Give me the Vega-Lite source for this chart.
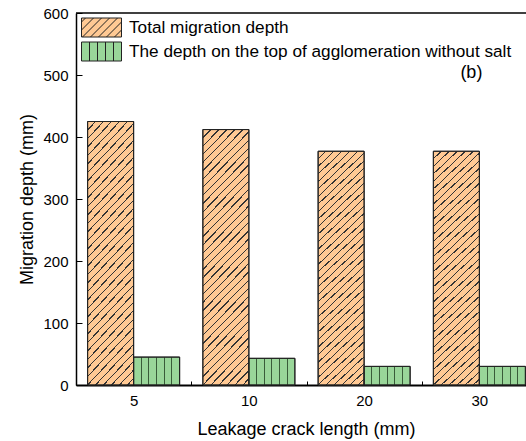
{
  "$schema": "https://vega.github.io/schema/vega-lite/v6.json",
  "width": 450,
  "height": 372,
  "autosize": {"type": "none"},
  "padding": {"left": 76, "top": 13, "right": 0, "bottom": 56},
  "background": "white",
  "config": {
    "font": "Liberation Sans",
    "view": {"stroke": null},
    "axis": {"grid": false, "labelColor": "#000", "titleColor": "#000", "domainColor": "#000", "tickColor": "#000", "labelFont": "Liberation Sans", "titleFont": "Liberation Sans", "titleFontWeight": "normal"}
  },
  "datasets": {
    "bars": [
      {"length": 5, "series": "Total migration depth", "depth": 425},
      {"length": 10, "series": "Total migration depth", "depth": 412},
      {"length": 20, "series": "Total migration depth", "depth": 377},
      {"length": 30, "series": "Total migration depth", "depth": 377},
      {"length": 5, "series": "The depth on the top of agglomeration without salt", "depth": 45},
      {"length": 10, "series": "The depth on the top of agglomeration without salt", "depth": 43},
      {"length": 20, "series": "The depth on the top of agglomeration without salt", "depth": 30},
      {"length": 30, "series": "The depth on the top of agglomeration without salt", "depth": 30}
    ],
    "note": [{"label": "(b)", "length": 30, "depth": 503}],
    "frame": [{"depth": 600}]
  },
  "layer": [
    {
      "data": {"name": "bars"},
      "mark": {"type": "bar", "stroke": "#222", "strokeWidth": 1},
      "encoding": {
        "x": {
          "field": "length", "type": "ordinal",
          "scale": {"range": [0, 461], "paddingInner": 0, "paddingOuter": 0},
          "axis": {"title": "Leakage crack length (mm)", "labelAngle": 0, "labelFontSize": 15, "titleFontSize": 18, "tickBand": "extent", "tickSize": -4, "tickWidth": 1, "domainWidth": 2, "labelPadding": 12, "titlePadding": 12, "titleX": 230}
        },
        "y": {
          "field": "depth", "type": "quantitative",
          "scale": {"domain": [0, 600], "nice": false},
          "axis": {
            "title": "Migration depth (mm)",
            "values": [0, 50, 100, 150, 200, 250, 300, 350, 400, 450, 500, 550, 600],
            "labelExpr": "datum.value % 100 === 0 ? datum.label : ''",
            "tickSize": {"condition": {"test": "datum.value % 100 === 0", "value": -6}, "value": -3},
            "tickWidth": 1, "domainWidth": 1.5,
            "labelFontSize": 15, "titleFontSize": 18, "labelPadding": 14, "titlePadding": 6
          }
        },
        "xOffset": {"field": "series", "type": "nominal", "scale": {"domain": ["Total migration depth", "The depth on the top of agglomeration without salt"], "paddingInner": 0, "paddingOuter": 0.2527}},
        "color": {
          "field": "series", "type": "nominal",
          "scale": {"domain": ["Total migration depth", "The depth on the top of agglomeration without salt"], "range": ["#FFC994", "#99D699"]},
          "legend": {
            "title": null, "orient": "none", "legendX": 15, "legendY": 4, "padding": 0,
            "symbolType": "M-2,-0.95H2V0.95H-2Z", "symbolSize": 400, "symbolStrokeColor": "#222", "symbolStrokeWidth": 1,
            "labelFontSize": 17.2, "labelOffset": 17, "labelLimit": 0, "rowPadding": 1, "symbolOpacity": 1,
            "encode": {"symbols": {"update": {"shape": {"signal": "datum.value === 'Total migration depth' ? 'M-2,-0.95H2V0.95H-2Z M-2,-0.55L-1.6,-0.95 M-2,0.25L-0.8,-0.95 M-1.9,0.95L0,-0.95 M-1.1,0.95L0.8,-0.95 M-0.3,0.95L1.6,-0.95 M0.5,0.95L2,-0.55 M1.3,0.95L2,0.25' : 'M-2,-0.95H2V0.95H-2Z M-1.2,-0.95V0.95 M-0.4,-0.95V0.95 M0.4,-0.95V0.95 M1.2,-0.95V0.95'"}}}}
          }
        }
      }
    },
    {
      "data": {"name": "bars"},
      "transform": [{"filter": "datum.series === 'Total migration depth'"}],
      "mark": {
        "type": "bar", "stroke": "#222", "strokeWidth": 1,
        "fill": {
          "gradient": "linear", "x1": 0, "y1": 0, "x2": 0.2126, "y2": 1.146,
          "stops": [
            {"offset": 0, "color": "rgba(0,0,0,0)"},
            {"offset": 0.025, "color": "rgba(0,0,0,0)"}, {"offset": 0.025, "color": "#333"}, {"offset": 0.0294, "color": "#333"}, {"offset": 0.0294, "color": "rgba(0,0,0,0)"},
            {"offset": 0.0522, "color": "rgba(0,0,0,0)"}, {"offset": 0.0522, "color": "#333"}, {"offset": 0.0566, "color": "#333"}, {"offset": 0.0566, "color": "rgba(0,0,0,0)"},
            {"offset": 0.0794, "color": "rgba(0,0,0,0)"}, {"offset": 0.0794, "color": "#333"}, {"offset": 0.0838, "color": "#333"}, {"offset": 0.0838, "color": "rgba(0,0,0,0)"},
            {"offset": 0.1066, "color": "rgba(0,0,0,0)"}, {"offset": 0.1066, "color": "#333"}, {"offset": 0.111, "color": "#333"}, {"offset": 0.111, "color": "rgba(0,0,0,0)"},
            {"offset": 0.1338, "color": "rgba(0,0,0,0)"}, {"offset": 0.1338, "color": "#333"}, {"offset": 0.1382, "color": "#333"}, {"offset": 0.1382, "color": "rgba(0,0,0,0)"},
            {"offset": 0.161, "color": "rgba(0,0,0,0)"}, {"offset": 0.161, "color": "#333"}, {"offset": 0.1654, "color": "#333"}, {"offset": 0.1654, "color": "rgba(0,0,0,0)"},
            {"offset": 0.1882, "color": "rgba(0,0,0,0)"}, {"offset": 0.1882, "color": "#333"}, {"offset": 0.1926, "color": "#333"}, {"offset": 0.1926, "color": "rgba(0,0,0,0)"},
            {"offset": 0.2154, "color": "rgba(0,0,0,0)"}, {"offset": 0.2154, "color": "#333"}, {"offset": 0.2198, "color": "#333"}, {"offset": 0.2198, "color": "rgba(0,0,0,0)"},
            {"offset": 0.2426, "color": "rgba(0,0,0,0)"}, {"offset": 0.2426, "color": "#333"}, {"offset": 0.247, "color": "#333"}, {"offset": 0.247, "color": "rgba(0,0,0,0)"},
            {"offset": 0.2698, "color": "rgba(0,0,0,0)"}, {"offset": 0.2698, "color": "#333"}, {"offset": 0.2742, "color": "#333"}, {"offset": 0.2742, "color": "rgba(0,0,0,0)"},
            {"offset": 0.297, "color": "rgba(0,0,0,0)"}, {"offset": 0.297, "color": "#333"}, {"offset": 0.3014, "color": "#333"}, {"offset": 0.3014, "color": "rgba(0,0,0,0)"},
            {"offset": 0.3242, "color": "rgba(0,0,0,0)"}, {"offset": 0.3242, "color": "#333"}, {"offset": 0.3286, "color": "#333"}, {"offset": 0.3286, "color": "rgba(0,0,0,0)"},
            {"offset": 0.3514, "color": "rgba(0,0,0,0)"}, {"offset": 0.3514, "color": "#333"}, {"offset": 0.3558, "color": "#333"}, {"offset": 0.3558, "color": "rgba(0,0,0,0)"},
            {"offset": 0.3786, "color": "rgba(0,0,0,0)"}, {"offset": 0.3786, "color": "#333"}, {"offset": 0.383, "color": "#333"}, {"offset": 0.383, "color": "rgba(0,0,0,0)"},
            {"offset": 0.4058, "color": "rgba(0,0,0,0)"}, {"offset": 0.4058, "color": "#333"}, {"offset": 0.4102, "color": "#333"}, {"offset": 0.4102, "color": "rgba(0,0,0,0)"},
            {"offset": 0.433, "color": "rgba(0,0,0,0)"}, {"offset": 0.433, "color": "#333"}, {"offset": 0.4374, "color": "#333"}, {"offset": 0.4374, "color": "rgba(0,0,0,0)"},
            {"offset": 0.4602, "color": "rgba(0,0,0,0)"}, {"offset": 0.4602, "color": "#333"}, {"offset": 0.4646, "color": "#333"}, {"offset": 0.4646, "color": "rgba(0,0,0,0)"},
            {"offset": 0.4874, "color": "rgba(0,0,0,0)"}, {"offset": 0.4874, "color": "#333"}, {"offset": 0.4918, "color": "#333"}, {"offset": 0.4918, "color": "rgba(0,0,0,0)"},
            {"offset": 0.5146, "color": "rgba(0,0,0,0)"}, {"offset": 0.5146, "color": "#333"}, {"offset": 0.519, "color": "#333"}, {"offset": 0.519, "color": "rgba(0,0,0,0)"},
            {"offset": 0.5418, "color": "rgba(0,0,0,0)"}, {"offset": 0.5418, "color": "#333"}, {"offset": 0.5462, "color": "#333"}, {"offset": 0.5462, "color": "rgba(0,0,0,0)"},
            {"offset": 0.569, "color": "rgba(0,0,0,0)"}, {"offset": 0.569, "color": "#333"}, {"offset": 0.5734, "color": "#333"}, {"offset": 0.5734, "color": "rgba(0,0,0,0)"},
            {"offset": 0.5962, "color": "rgba(0,0,0,0)"}, {"offset": 0.5962, "color": "#333"}, {"offset": 0.6006, "color": "#333"}, {"offset": 0.6006, "color": "rgba(0,0,0,0)"},
            {"offset": 0.6234, "color": "rgba(0,0,0,0)"}, {"offset": 0.6234, "color": "#333"}, {"offset": 0.6278, "color": "#333"}, {"offset": 0.6278, "color": "rgba(0,0,0,0)"},
            {"offset": 0.6506, "color": "rgba(0,0,0,0)"}, {"offset": 0.6506, "color": "#333"}, {"offset": 0.655, "color": "#333"}, {"offset": 0.655, "color": "rgba(0,0,0,0)"},
            {"offset": 0.6778, "color": "rgba(0,0,0,0)"}, {"offset": 0.6778, "color": "#333"}, {"offset": 0.6822, "color": "#333"}, {"offset": 0.6822, "color": "rgba(0,0,0,0)"},
            {"offset": 0.705, "color": "rgba(0,0,0,0)"}, {"offset": 0.705, "color": "#333"}, {"offset": 0.7094, "color": "#333"}, {"offset": 0.7094, "color": "rgba(0,0,0,0)"},
            {"offset": 0.7322, "color": "rgba(0,0,0,0)"}, {"offset": 0.7322, "color": "#333"}, {"offset": 0.7366, "color": "#333"}, {"offset": 0.7366, "color": "rgba(0,0,0,0)"},
            {"offset": 0.7594, "color": "rgba(0,0,0,0)"}, {"offset": 0.7594, "color": "#333"}, {"offset": 0.7638, "color": "#333"}, {"offset": 0.7638, "color": "rgba(0,0,0,0)"},
            {"offset": 0.7866, "color": "rgba(0,0,0,0)"}, {"offset": 0.7866, "color": "#333"}, {"offset": 0.791, "color": "#333"}, {"offset": 0.791, "color": "rgba(0,0,0,0)"},
            {"offset": 0.8138, "color": "rgba(0,0,0,0)"}, {"offset": 0.8138, "color": "#333"}, {"offset": 0.8182, "color": "#333"}, {"offset": 0.8182, "color": "rgba(0,0,0,0)"},
            {"offset": 0.841, "color": "rgba(0,0,0,0)"}, {"offset": 0.841, "color": "#333"}, {"offset": 0.8454, "color": "#333"}, {"offset": 0.8454, "color": "rgba(0,0,0,0)"},
            {"offset": 0.8682, "color": "rgba(0,0,0,0)"}, {"offset": 0.8682, "color": "#333"}, {"offset": 0.8726, "color": "#333"}, {"offset": 0.8726, "color": "rgba(0,0,0,0)"},
            {"offset": 0.8954, "color": "rgba(0,0,0,0)"}, {"offset": 0.8954, "color": "#333"}, {"offset": 0.8998, "color": "#333"}, {"offset": 0.8998, "color": "rgba(0,0,0,0)"},
            {"offset": 0.9226, "color": "rgba(0,0,0,0)"}, {"offset": 0.9226, "color": "#333"}, {"offset": 0.927, "color": "#333"}, {"offset": 0.927, "color": "rgba(0,0,0,0)"},
            {"offset": 0.9498, "color": "rgba(0,0,0,0)"}, {"offset": 0.9498, "color": "#333"}, {"offset": 0.9542, "color": "#333"}, {"offset": 0.9542, "color": "rgba(0,0,0,0)"},
            {"offset": 0.977, "color": "rgba(0,0,0,0)"}, {"offset": 0.977, "color": "#333"}, {"offset": 0.9814, "color": "#333"}, {"offset": 0.9814, "color": "rgba(0,0,0,0)"},
            {"offset": 1, "color": "rgba(0,0,0,0)"}
          ]
        }
      },
      "encoding": {
        "x": {"field": "length", "type": "ordinal"},
        "y": {"field": "depth", "type": "quantitative"},
        "xOffset": {"field": "series", "type": "nominal"}
      }
    },
    {
      "data": {"name": "bars"},
      "transform": [{"filter": "datum.series !== 'Total migration depth'"}],
      "mark": {
        "type": "bar", "stroke": "#222", "strokeWidth": 1,
        "fill": {
          "gradient": "linear", "x1": 0, "y1": 0, "x2": 1, "y2": 0,
          "stops": [
            {"offset": 0, "color": "rgba(0,0,0,0)"},
            {"offset": 0.155, "color": "rgba(0,0,0,0)"}, {"offset": 0.155, "color": "rgba(40,70,40,0.85)"}, {"offset": 0.178, "color": "rgba(40,70,40,0.85)"}, {"offset": 0.178, "color": "rgba(0,0,0,0)"},
            {"offset": 0.322, "color": "rgba(0,0,0,0)"}, {"offset": 0.322, "color": "rgba(40,70,40,0.85)"}, {"offset": 0.345, "color": "rgba(40,70,40,0.85)"}, {"offset": 0.345, "color": "rgba(0,0,0,0)"},
            {"offset": 0.489, "color": "rgba(0,0,0,0)"}, {"offset": 0.489, "color": "rgba(40,70,40,0.85)"}, {"offset": 0.512, "color": "rgba(40,70,40,0.85)"}, {"offset": 0.512, "color": "rgba(0,0,0,0)"},
            {"offset": 0.655, "color": "rgba(0,0,0,0)"}, {"offset": 0.655, "color": "rgba(40,70,40,0.85)"}, {"offset": 0.678, "color": "rgba(40,70,40,0.85)"}, {"offset": 0.678, "color": "rgba(0,0,0,0)"},
            {"offset": 0.822, "color": "rgba(0,0,0,0)"}, {"offset": 0.822, "color": "rgba(40,70,40,0.85)"}, {"offset": 0.845, "color": "rgba(40,70,40,0.85)"}, {"offset": 0.845, "color": "rgba(0,0,0,0)"},
            {"offset": 1, "color": "rgba(0,0,0,0)"}
          ]
        }
      },
      "encoding": {
        "x": {"field": "length", "type": "ordinal"},
        "y": {"field": "depth", "type": "quantitative"},
        "xOffset": {"field": "series", "type": "nominal"}
      }
    },
    {
      "data": {"name": "frame"},
      "mark": {"type": "rule", "stroke": "#000", "strokeWidth": 1.3},
      "encoding": {"y": {"field": "depth", "type": "quantitative"}}
    },
    {
      "data": {"name": "note"},
      "mark": {"type": "text", "fontSize": 18, "dx": -8, "baseline": "middle", "align": "center", "color": "#000"},
      "encoding": {
        "x": {"field": "length", "type": "ordinal"},
        "y": {"field": "depth", "type": "quantitative"},
        "text": {"field": "label"}
      }
    }
  ]
}
